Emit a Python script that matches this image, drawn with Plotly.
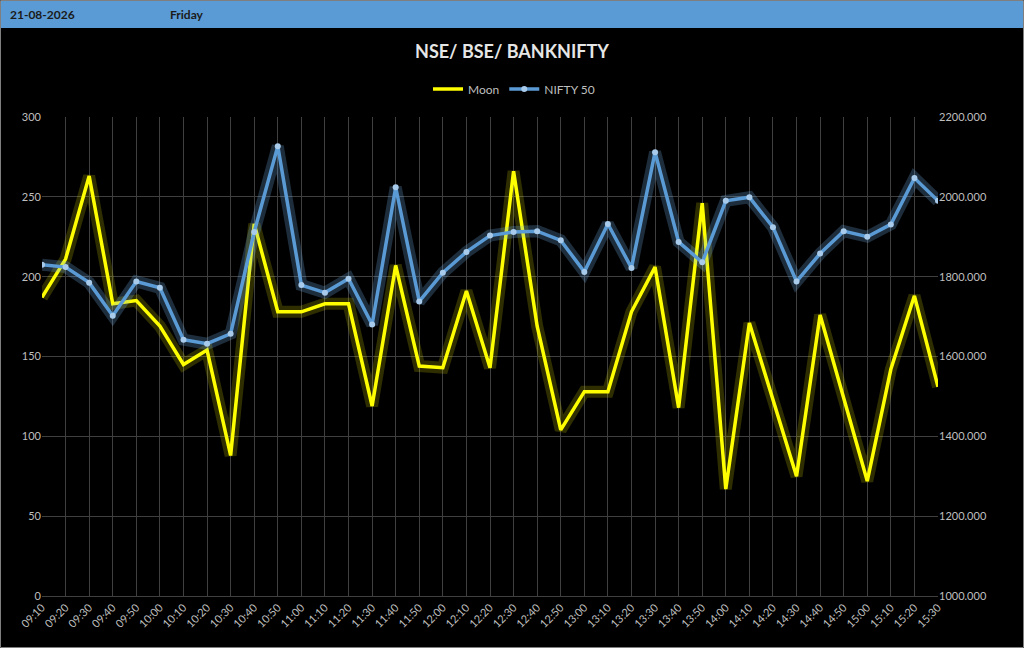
import plotly.graph_objects as go

times = ["09:10","09:20","09:30","09:40","09:50","10:00","10:10","10:20","10:30","10:40",
         "10:50","11:00","11:10","11:20","11:30","11:40","11:50","12:00","12:10","12:20",
         "12:30","12:40","12:50","13:00","13:10","13:20","13:30","13:40","13:50","14:00",
         "14:10","14:20","14:30","14:40","14:50","15:00","15:10","15:20","15:30"]

moon = [187, 211, 263, 183, 185, 169, 145, 154, 88, 233,
        178, 178, 183, 183, 119, 207, 144, 143, 191, 143,
        266, 169, 104, 128, 128, 178, 206, 118, 246, 67,
        171, 123, 75, 176, 124, 72, 142, 188, 131]

nifty = [1830, 1824, 1785, 1702, 1788, 1772, 1642, 1632, 1657, 1912,
         2127, 1779, 1760, 1795, 1680, 2024, 1738, 1810, 1862, 1903,
         1912, 1914, 1891, 1812, 1932, 1822, 2112, 1887, 1836, 1990,
         1999, 1924, 1788, 1858, 1914, 1900, 1931, 2047, 1990]

left_ticks = [0, 50, 100, 150, 200, 250, 300]
right_ticks = [1000, 1200, 1400, 1600, 1800, 2000, 2200]

FONT = "Lato"
GRID = "#3f3f3f"
TICKC = "#bfbfbf"

fig = go.Figure()

# glow layers
fig.add_trace(go.Scatter(x=times, y=moon, mode="lines", yaxis="y",
                         line=dict(color="rgba(255,255,0,0.18)", width=12),
                         showlegend=False, hoverinfo="skip"))
fig.add_trace(go.Scatter(x=times, y=moon, mode="lines", yaxis="y", name="Moon",
                         line=dict(color="#FFFF00", width=3.5)))
fig.add_trace(go.Scatter(x=times, y=nifty, mode="lines", yaxis="y2",
                         line=dict(color="rgba(120,180,235,0.25)", width=12),
                         showlegend=False, hoverinfo="skip"))
fig.add_trace(go.Scatter(x=times, y=nifty, mode="lines+markers", yaxis="y2", name="NIFTY 50",
                         line=dict(color="#5B9BD5", width=3.5),
                         marker=dict(color="#A9CBEB", size=6)))

L, R, T, B = 42, 86, 117, 52
W, H = 1024, 648
pw, ph = W - L - R, H - T - B

def px(x):
    return (x - L) / pw

def py(y):
    return (H - B - y) / ph

fig.update_layout(
    width=W, height=H,
    margin=dict(l=L, r=R, t=T, b=B),
    paper_bgcolor="black", plot_bgcolor="black",
    font=dict(family=FONT, color=TICKC, size=11),
    title=dict(text="<b>NSE/ BSE/ BANKNIFTY</b>", x=0.5, xanchor="center",
               y=1 - 52 / H, yanchor="middle", yref="container",
               font=dict(family=FONT, size=18, color="#e6e6e6")),
    legend=dict(orientation="h", x=px(514), xanchor="center", y=py(89), yanchor="middle",
                font=dict(family=FONT, size=12, color="#bfbfbf"),
                bgcolor="rgba(0,0,0,0)", itemwidth=30),
    xaxis=dict(type="category", range=[0, len(times) - 1], tickangle=-45,
               showgrid=True, gridcolor=GRID, gridwidth=1,
               showline=True, linecolor=GRID, ticks="", zeroline=False,
               tickfont=dict(family=FONT, size=11, color=TICKC)),
    yaxis=dict(range=[0, 300], tickvals=left_ticks, showgrid=True, gridcolor=GRID,
               zeroline=False, showline=False, ticks="",
               tickfont=dict(family=FONT, size=11, color=TICKC)),
    yaxis2=dict(range=[1000, 2200], tickvals=right_ticks, tickformat=".3f",
                overlaying="y", side="right", showgrid=False, zeroline=False,
                ticks="", tickfont=dict(family=FONT, size=11, color=TICKC)),
    showlegend=True,
    shapes=[
        dict(type="rect", xref="paper", yref="paper",
             x0=px(1), x1=px(W - 1), y0=py(28), y1=py(1),
             fillcolor="#5B9BD5", line=dict(width=0), layer="below"),
        dict(type="rect", xref="paper", yref="paper",
             x0=px(0.5), x1=px(W - 0.5), y0=py(H - 0.5), y1=py(0.5),
             fillcolor="rgba(0,0,0,0)", line=dict(color="#7f7f7f", width=1)),
    ],
    annotations=[
        dict(text="<b>21-08-2026</b>", xref="paper", yref="paper", x=px(8), y=py(15),
             xanchor="left", yanchor="middle", showarrow=False,
             font=dict(family=FONT, size=12, color="#1a1a1a")),
        dict(text="<b>Friday</b>", xref="paper", yref="paper", x=px(168), y=py(15),
             xanchor="left", yanchor="middle", showarrow=False,
             font=dict(family=FONT, size=12, color="#1a1a1a")),
    ],
)

fig.write_html("out.html", config={"displayModeBar": False},
               post_script="document.body.style.margin='0';document.body.style.overflow='hidden';")
